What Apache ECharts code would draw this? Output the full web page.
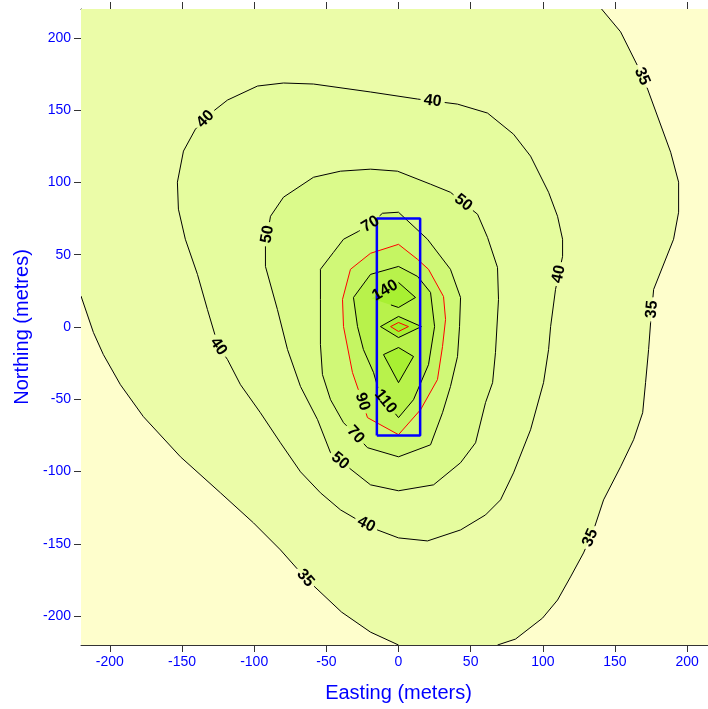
<!DOCTYPE html>
<html>
<head>
<meta charset="utf-8">
<script src="https://cdn.jsdelivr.net/npm/echarts@6/dist/echarts.min.js"></script>
<style>
  html, body { margin: 0; padding: 0; background: #ffffff; }
  #chart { width: 708px; height: 709px; }
</style>
</head>
<body>
<div id="chart"></div>
<script>
// Plot extent (metres) and tick positions
const axisMin = -220;
const axisMax = 220;
const tickValues = [-200, -150, -100, -50, 0, 50, 100, 150, 200];

// Contour levels and the fill used above each level
const levels = [35, 40, 50, 70, 90, 110, 140, 170];
const belowColor = '#FEFECC';
const bandColors = ['#EBFCA8', '#E5FC9E', '#DBFA8B', '#D0F877', '#C5F562', '#B8F24B', '#A8F032', '#A0EE26'];

// Contour polylines, [easting, northing]
const c35West = [[-220, 21.4], [-211.4, -3.8], [-204.5, -19.1], [-192.7, -39.9], [-176.8, -62], [-151.1, -89.8],
  [-123.4, -114.7], [-100.5, -135.5], [-81.8, -154.2], [-64.5, -173.7], [-39.5, -197.2], [-19.4, -211.1], [0, -220]];
const c35East = [[140.7, 220], [153.9, 204.2], [165.7, 180.6], [172.6, 164.6], [188.6, 120.9], [194.1, 100.2],
  [194.1, 79.4], [190.6, 60.7], [176.8, 26], [174.7, 3.1], [173.3, -15.6], [171.2, -38.5], [169.2, -59.3],
  [162.9, -78], [153.9, -96.7], [142.1, -119.6], [135.2, -140.4], [128.2, -156.3], [119.2, -172.9],
  [110.2, -188.9], [99.8, -201.4], [81.1, -215.9], [68.6, -220]];
const c40 = [[-97.7, 166.7], [-79.7, 168.8], [-58.9, 168.1], [-19.4, 162.6], [13.2, 157.7], [40.9, 154.2],
  [61.7, 148], [79.7, 133.4], [91.5, 118.2], [104, 93.2], [110.2, 76.6], [113.7, 60.7], [113.7, 48.9],
  [108.8, 26], [105.4, 0.3], [104, -15.6], [100.5, -38.5], [91.5, -71.1], [79.7, -100.9], [70.7, -119.6],
  [60.3, -130], [43, -140.4], [20.1, -148], [0, -145.9], [-14.6, -140.4], [-28.4, -133.4], [-40.2, -126.5],
  [-54.1, -114.7], [-67.9, -100.2], [-81.8, -80.1], [-95.7, -59.3], [-109.5, -39.9], [-118.5, -22.5],
  [-124.8, -13.5], [-132.4, 12.1], [-139.3, 36.4], [-147.7, 60.7], [-152.5, 81.5], [-153.2, 100.2],
  [-149, 121.7], [-140.7, 136.9], [-128.2, 149.4], [-118.5, 157]];
const c50 = [[-88.7, 76.6], [-79.7, 89.8], [-58.9, 103.6], [-40.2, 107.8], [-19.4, 109.2], [-0.7, 107.8],
  [22.2, 98.8], [36, 93.2], [54.8, 78], [61.7, 62], [68.6, 41.2], [69.3, 19.1], [67.2, -17.7], [65.2, -38.5],
  [60.3, -52.3], [53.4, -80.1], [43, -93.9], [24.3, -109.2], [0, -113.3], [-19.4, -109.2], [-38.8, -93.9],
  [-47.1, -87], [-56.1, -64.1], [-67.9, -41.2], [-76.9, -15.6], [-83.9, 12.1], [-92.2, 41.9], [-92.2, 55.8],
  [-90.8, 64.1]];
const c70 = [[0, 79.4], [20.1, 60.7], [36, 39.9], [43, 20.4], [42.3, 0.3], [40.9, -20.4], [36, -41.2],
  [30.5, -59.3], [22.2, -81.5], [0, -89.8], [-21.5, -83.5], [-29.8, -74.5], [-38.1, -66.2], [-47.1, -50.3],
  [-52.7, -32.9], [-54.1, -12.1], [-54.1, 19.1], [-54.1, 39.9], [-45.1, 51.6], [-38.1, 60.7], [-27.7, 66.2],
  [-19.4, 71.1], [-11.1, 78.7]];
const c90 = [[0, 57.2], [13.2, 46.8], [20.8, 39.9], [31.2, 21.1], [32.6, 5.2], [30.5, -13.5], [27, -36.4],
  [15.3, -57.2], [0, -74.5], [-21.5, -62.7], [-25, -51.6], [-31.9, -31.5], [-38.1, 0.3], [-38.8, 19.1],
  [-33.3, 39.9], [-19.4, 51]];
const c110 = [[0, 41.9], [13.2, 35], [22.2, 23.9], [25, 0.3], [20.8, -26], [10.4, -50.3], [0, -62.7],
  [-9, -51.6], [-13.9, -43.3], [-17.3, -31.5], [-24.3, -15.6], [-28.4, 0.3], [-31.2, 20.4], [-19.4, 36.4]];
const c140North = [[0, 30.8], [11.8, 20.4], [0, 13.5], [-18.7, 19.8]];
const c140Centre = [[-12.5, 0.3], [0, 7.3], [15.9, 0.3], [0, -7.3]];
const c140South = [[-10.4, -19.1], [0, -14.2], [10.4, -20.4], [0, -38.5]];
const c170 = [[-5.5, 0.3], [0, 3.1], [6.9, 0.3], [0, -3.1]];

// Where each contour carries its value label
const labels35West = [[-64.5, -173.6]];
const labels35East = [[167.8, 173], [176.1, 12.1], [133.1, -145.9]];
const labels40 = [[23.6, 156.3], [112.3, 36.4], [-133.8, 143.8], [-124.8, -13.5], [-22.9, -137.6]];
const labels50 = [[45.1, 86.3], [-90.8, 64.1], [-40, -92]];
const labels70 = [[-19.4, 71.1], [-29.8, -74.5]];
const labels90 = [[-25, -51.6]];
const labels110 = [[-9, -51.6]];
const labels140 = [[-9.3, 25.3]];

// Source footprint outline
const sourceBox = [[-15, -75], [15, -75], [15, 75], [-15, 75], [-15, -75]];

// Filled bands, drawn lowest level first
const bands = [
  { path: [...c35West, ...c35East.slice().reverse(), [axisMin, axisMax]], color: bandColors[0] },
  { path: c40, color: bandColors[1] },
  { path: c50, color: bandColors[2] },
  { path: c70, color: bandColors[3] },
  { path: c90, color: bandColors[4] },
  { path: c110, color: bandColors[5] },
  { path: c140North, color: bandColors[6] },
  { path: c140Centre, color: bandColors[6] },
  { path: c140South, color: bandColors[6] },
  { path: c170, color: bandColors[7] }
];

// Contour lines with their labels
const contours = [
  { path: c35West, closed: false, color: '#000000', level: levels[0], labels: labels35West },
  { path: c35East, closed: false, color: '#000000', level: levels[0], labels: labels35East },
  { path: c40, closed: true, color: '#000000', level: levels[1], labels: labels40 },
  { path: c50, closed: true, color: '#000000', level: levels[2], labels: labels50 },
  { path: c70, closed: true, color: '#000000', level: levels[3], labels: labels70 },
  { path: c90, closed: true, color: '#FF0000', level: levels[4], labels: labels90 },
  { path: c110, closed: true, color: '#000000', level: levels[5], labels: labels110 },
  { path: c140North, closed: true, color: '#000000', level: levels[6], labels: labels140 },
  { path: c140Centre, closed: true, color: '#000000', level: levels[6], labels: [] },
  { path: c140South, closed: true, color: '#000000', level: levels[6], labels: [] },
  { path: c170, closed: true, color: '#FF0000', level: levels[7], labels: [] }
];

const labelFont = 'bold 16px "Liberation Sans", Arial, sans-serif';
const axisFont = '"Liberation Sans", Arial, sans-serif';
const axisBlue = '#0000FF';

function pixelPath(c, api) {
  const pts = c.path.map(p => api.coord(p));
  if (c.closed) pts.push(pts[0]);
  return pts;
}

// Place a label on the nearest point of the line, turned along it
function labelPlacement(pts, target) {
  let best = null;
  for (let i = 0; i < pts.length - 1; i++) {
    const a = pts[i], b = pts[i + 1];
    const dx = b[0] - a[0], dy = b[1] - a[1];
    const len2 = dx * dx + dy * dy || 1;
    let t = ((target[0] - a[0]) * dx + (target[1] - a[1]) * dy) / len2;
    t = Math.max(0, Math.min(1, t));
    const q = [a[0] + t * dx, a[1] + t * dy];
    const d = Math.hypot(target[0] - q[0], target[1] - q[1]);
    if (!best || d < best.d) {
      let ang = Math.atan2(dy, dx);
      if (ang > Math.PI / 2) ang -= Math.PI;
      if (ang < -Math.PI / 2) ang += Math.PI;
      best = { d, x: q[0], y: q[1], angle: ang };
    }
  }
  return best;
}

function labelRadius(text) {
  return String(text).length * 3.5 + 5;
}

// Split a line into runs that leave room for its labels; runs keep the
// original vertices plus the points where the line meets a label gap
function gappedRuns(pts, holes) {
  const runs = [];
  let cur = [];
  const inside = (x, y) => holes.some(h => Math.hypot(x - h.x, y - h.y) < h.r);
  for (let i = 0; i < pts.length - 1; i++) {
    const a = pts[i], b = pts[i + 1];
    const len = Math.hypot(b[0] - a[0], b[1] - a[1]);
    const steps = Math.max(1, Math.ceil(len / 0.5));
    const at = (s) => [a[0] + s / steps * (b[0] - a[0]), a[1] + s / steps * (b[1] - a[1])];
    for (let s = (i === 0 ? 0 : 1); s <= steps; s++) {
      const p = at(s);
      if (inside(p[0], p[1])) {
        if (cur.length > 1) runs.push(cur);
        cur = [];
      } else if (cur.length === 0 || s === steps) {
        cur.push(p);
      } else {
        const n = at(s + 1);
        if (inside(n[0], n[1])) cur.push(p);
      }
    }
  }
  if (cur.length > 1) runs.push(cur);
  return runs;
}

const chart = echarts.init(document.getElementById('chart'), null, { renderer: 'canvas' });

const dummy = (arr) => arr.map(() => [0, 0]);

const option = {
  backgroundColor: '#ffffff',
  animation: false,
  grid: { left: 81, top: 9, bottom: 64, right: -8, containLabel: false, outerBoundsMode: 'none' },
  xAxis: [
    {
      type: 'value', position: 'bottom', min: axisMin, max: axisMax,
      axisLine: { show: true, onZero: false, lineStyle: { color: '#333333', width: 1 } },
      axisTick: { show: true, customValues: tickValues, length: 7, inside: false, lineStyle: { color: '#333333' } },
      axisLabel: { customValues: tickValues, color: axisBlue, fontSize: 14, fontFamily: axisFont, margin: 10 },
      splitLine: { show: false },
      name: 'Easting (meters)', nameLocation: 'middle', nameGap: 38,
      nameTextStyle: { color: axisBlue, fontSize: 20, fontFamily: axisFont }
    },
    {
      type: 'value', position: 'top', min: axisMin, max: axisMax,
      axisLine: { show: true, onZero: false, lineStyle: { color: '#333333', width: 1 } },
      axisTick: { show: true, customValues: tickValues, length: 7, inside: false, lineStyle: { color: '#333333' } },
      axisLabel: { show: false },
      splitLine: { show: false }
    }
  ],
  yAxis: [
    {
      type: 'value', position: 'left', min: axisMin, max: axisMax,
      axisLine: { show: true, onZero: false, lineStyle: { color: '#333333', width: 1 } },
      axisTick: { show: true, customValues: tickValues, length: 7, inside: false, lineStyle: { color: '#333333' } },
      axisLabel: { customValues: tickValues, color: axisBlue, fontSize: 14, fontFamily: axisFont, margin: 10 },
      splitLine: { show: false },
      name: 'Northing (metres)', nameLocation: 'middle', nameGap: 48, nameRotate: 90,
      nameTextStyle: { color: axisBlue, fontSize: 20, fontFamily: axisFont }
    }
  ],
  series: [
    {
      // base colour below the lowest contour
      type: 'custom', xAxisIndex: 0, yAxisIndex: 0, z: 1, clip: true, silent: true,
      data: [[0, 0]],
      renderItem: (params, api) => {
        const tl = api.coord([axisMin, axisMax]);
        const br = api.coord([axisMax, axisMin]);
        return { type: 'rect', shape: { x: tl[0], y: tl[1], width: br[0] - tl[0], height: br[1] - tl[1] },
          style: { fill: belowColor } };
      }
    },
    {
      type: 'custom', xAxisIndex: 0, yAxisIndex: 0, z: 2, clip: true, silent: true,
      data: dummy(bands),
      renderItem: (params, api) => {
        const b = bands[params.dataIndex];
        return { type: 'polygon', shape: { points: b.path.map(p => api.coord(p)) },
          style: { fill: b.color, stroke: null } };
      }
    },
    {
      type: 'custom', xAxisIndex: 0, yAxisIndex: 0, z: 3, clip: true, silent: true,
      data: dummy(contours),
      renderItem: (params, api) => {
        const c = contours[params.dataIndex];
        const pts = pixelPath(c, api);
        const holes = c.labels.map(l => {
          const p = labelPlacement(pts, api.coord(l));
          return { x: p.x, y: p.y, r: labelRadius(c.level) };
        });
        const runs = gappedRuns(pts, holes);
        return {
          type: 'group',
          children: runs.map(r => ({ type: 'polyline', shape: { points: r },
            style: { stroke: c.color, lineWidth: 1, fill: null } }))
        };
      }
    },
    {
      type: 'line', xAxisIndex: 0, yAxisIndex: 0, z: 4, silent: true,
      data: sourceBox, symbol: 'none',
      lineStyle: { color: '#0000FF', width: 2.5 }
    },
    {
      type: 'custom', xAxisIndex: 0, yAxisIndex: 0, z: 5, clip: true, silent: true,
      data: dummy(contours),
      renderItem: (params, api) => {
        const c = contours[params.dataIndex];
        const pts = pixelPath(c, api);
        return {
          type: 'group',
          children: c.labels.map(l => {
            const p = labelPlacement(pts, api.coord(l));
            return { type: 'text', x: p.x, y: p.y, rotation: -p.angle,
              style: { text: String(c.level), font: labelFont, fill: '#000000',
                align: 'center', verticalAlign: 'middle' } };
          })
        };
      }
    }
  ]
};

chart.setOption(option);
</script>
</body>
</html>
